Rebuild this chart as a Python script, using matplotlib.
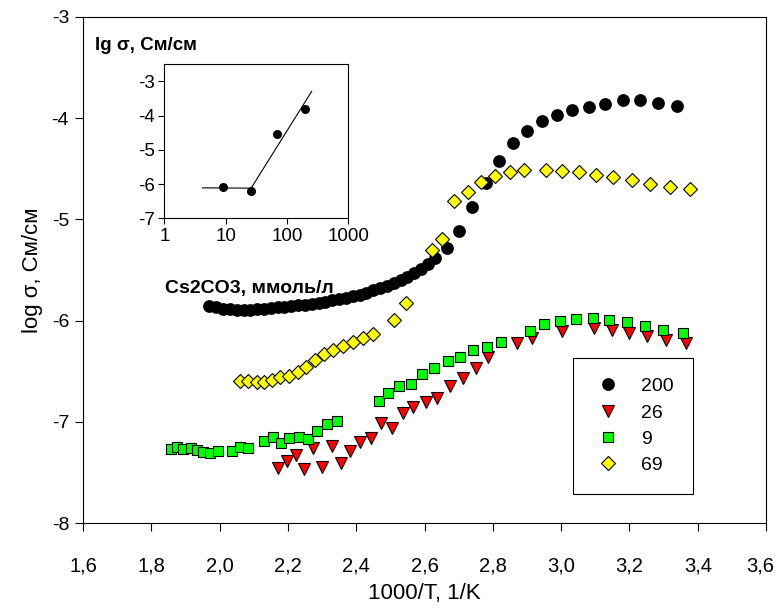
import matplotlib
matplotlib.use("Agg")
import matplotlib.pyplot as plt
import matplotlib.transforms as mtransforms

plt.rcParams['font.family'] = ['Liberation Sans', 'DejaVu Sans']
plt.rcParams['axes.unicode_minus'] = False

# 200 mmol/l
x_200 = [1.97, 1.99, 2.01, 2.03, 2.05, 2.07, 2.09, 2.11, 2.13, 2.15, 2.17, 2.19,
         2.21, 2.23, 2.25, 2.27, 2.29, 2.31, 2.33, 2.35, 2.37, 2.39, 2.41, 2.43,
         2.45, 2.47, 2.49, 2.51, 2.53, 2.55, 2.57, 2.59, 2.61, 2.631, 2.665, 2.702,
         2.739, 2.780, 2.818, 2.858, 2.900, 2.943, 2.988, 3.033, 3.081, 3.129,
         3.180, 3.231, 3.285, 3.339]
y_200 = [-5.86, -5.87, -5.88, -5.885, -5.89, -5.89, -5.89, -5.885, -5.88, -5.875,
         -5.87, -5.865, -5.86, -5.85, -5.845, -5.835, -5.825, -5.815, -5.80, -5.79,
         -5.775, -5.76, -5.745, -5.725, -5.70, -5.68, -5.655, -5.63, -5.60, -5.565,
         -5.53, -5.49, -5.44, -5.385, -5.286, -5.113, -4.876, -4.639, -4.424, -4.25,
         -4.125, -4.033, -3.967, -3.924, -3.888, -3.862, -3.825, -3.825, -3.849, -3.879]

# 26 mmol/l
x_26 = [2.172, 2.197, 2.223, 2.248, 2.274, 2.301, 2.328, 2.355, 2.382, 2.411,
        2.442, 2.473, 2.504, 2.536, 2.567, 2.604, 2.637, 2.675, 2.712, 2.750,
        2.787, 2.870, 2.914, 3.002, 3.097, 3.148, 3.199, 3.251, 3.307, 3.366]
y_26 = [-7.45, -7.385, -7.327, -7.46, -7.26, -7.44, -7.237, -7.403, -7.287, -7.195,
        -7.154, -7.014, -7.063, -6.91, -6.856, -6.804, -6.767, -6.643, -6.57, -6.471,
        -6.356, -6.218, -6.175, -6.10, -6.07, -6.093, -6.119, -6.152, -6.192, -6.224]

# 9 mmol/l
x_9 = [1.857, 1.876, 1.894, 1.915, 1.933, 1.952, 1.972, 1.994, 2.035, 2.060,
       2.084, 2.130, 2.155, 2.179, 2.204, 2.233, 2.260, 2.286, 2.314, 2.343,
       2.466, 2.494, 2.526, 2.560, 2.594, 2.629, 2.668, 2.704, 2.743, 2.782,
       2.823, 2.909, 2.951, 2.997, 3.044, 3.092, 3.141, 3.192, 3.245, 3.299, 3.356]
y_9 = [-7.27, -7.245, -7.268, -7.255, -7.277, -7.294, -7.31, -7.284, -7.284, -7.245,
       -7.261, -7.189, -7.146, -7.205, -7.156, -7.152, -7.172, -7.087, -7.024, -6.988,
       -6.79, -6.712, -6.646, -6.626, -6.527, -6.471, -6.396, -6.356, -6.29, -6.258,
       -6.211, -6.10, -6.037, -6.001, -5.981, -5.977, -5.994, -6.014, -6.053, -6.093, -6.119]

# 69 mmol/l
x_69 = [2.060, 2.084, 2.109, 2.131, 2.154, 2.178, 2.202, 2.229, 2.253, 2.279,
        2.306, 2.333, 2.362, 2.392, 2.421, 2.450, 2.512, 2.545, 2.621, 2.650,
        2.686, 2.726, 2.765, 2.807, 2.849, 2.892, 2.957, 3.004, 3.052, 3.101,
        3.153, 3.207, 3.260, 3.318, 3.377]
y_69 = [-6.60, -6.60, -6.61, -6.61, -6.59, -6.56, -6.55, -6.51, -6.455, -6.39,
        -6.33, -6.285, -6.255, -6.21, -6.175, -6.13, -5.995, -5.83, -5.30, -5.19,
        -4.82, -4.73, -4.63, -4.57, -4.53, -4.51, -4.51, -4.52, -4.53, -4.56,
        -4.58, -4.615, -4.65, -4.68, -4.70]

# inset: log conductivity vs concentration
conc = [9, 26, 69, 200]
lg_sigma = [-6.1, -6.2, -4.55, -3.8]
fit_x = [4.2, 26, 253]
fit_y = [-6.11, -6.12, -3.29]

xticks = [1.6, 1.8, 2.0, 2.2, 2.4, 2.6, 2.8, 3.0, 3.2, 3.4, 3.6]
xtick_labels = ['1,6', '1,8', '2,0', '2,2', '2,4', '2,6', '2,8', '3,0', '3,2', '3,4', '3,6']

fig = plt.figure(figsize=(7.78, 6.13), dpi=100)
ax = fig.add_axes([0.1067, 0.1463, 0.8779, 0.8265])

ax.plot(x_200, y_200, 'o', color='black', ms=9.2, mec='black', mew=0, label='200', zorder=3)
ax.plot(x_26, y_26, 'v', color='red', ms=8, mec='black', mew=0.8, label='26', zorder=3)
ax.plot(x_9, y_9, 's', color='#00ff00', ms=7.4, mec='black', mew=0.8, label='9', zorder=3)
ax.plot(x_69, y_69, 'D', color='yellow', ms=7, mec='black', mew=0.8, label='69', zorder=3)

ax.set_xlim(1.6, 3.6)
ax.set_ylim(-8, -3)
ax.set_xticks(xticks)
ax.set_xticklabels(xtick_labels)
ax.set_yticks([-8, -7, -6, -5, -4, -3])
ax.tick_params(direction='out', length=6, width=0.8, labelsize=14, pad=4)
ax.tick_params(axis='x', labelsize=14.5, pad=18)
for s in ax.spines.values():
    s.set_linewidth(0.8)
# keep the last label inside the picture
last = ax.get_xticklabels()[-1]
last.set_transform(last.get_transform() + mtransforms.ScaledTranslation(-6 / 100, 0, fig.dpi_scale_trans))

ax.set_xlabel('1000/T, 1/K', fontsize=16, labelpad=5)
ax.set_ylabel('log σ, См/см', fontsize=16, labelpad=6)

ax.text(0.0176, 0.944, 'lg σ, См/см', transform=ax.transAxes, fontsize=13.5,
        fontweight='bold', va='center', ha='left')
ax.text(0.12, 0.4625, 'Cs2CO3, ммоль/л', transform=ax.transAxes, fontsize=14,
        fontweight='bold', va='center', ha='left', zorder=1)

leg = ax.legend(loc='upper left', bbox_to_anchor=(0.717, 0.326), borderaxespad=0,
                fontsize=14, frameon=True, fancybox=False, edgecolor='black',
                framealpha=1, borderpad=1.0, labelspacing=0.45, handletextpad=0.9,
                handlelength=1.6)
leg.get_frame().set_linewidth(0.8)

# inset
ins = fig.add_axes([0.2112, 0.6439, 0.2365, 0.2512])
ins.plot(fit_x[:2], fit_y[:2], color='black', lw=0.8)
ins.plot(fit_x[1:], fit_y[1:], color='black', lw=0.8)
ins.plot(conc, lg_sigma, 'o', color='black', ms=6.5, mew=0)
ins.set_xscale('log')
ins.set_xlim(1, 1000)
ins.set_ylim(-7, -2.5)
ins.set_xticks([1, 10, 100, 1000])
ins.set_xticklabels(['1', '10', '100', '1000'])
ins.minorticks_off()
ins.set_yticks([-7, -6, -5, -4, -3])
ins.tick_params(direction='out', length=4, width=0.8, labelsize=13.5, pad=3)
for s in ins.spines.values():
    s.set_linewidth(0.8)

fig.savefig('out.png', dpi=100)
